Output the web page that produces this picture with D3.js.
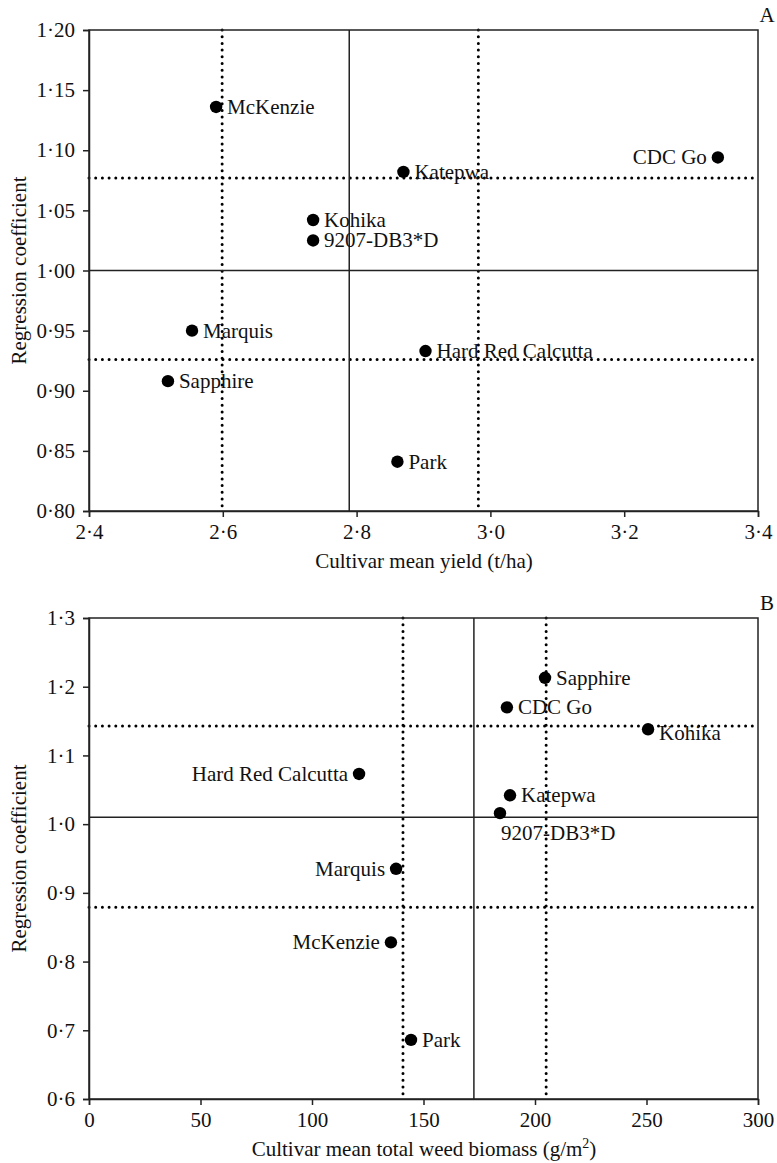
<!DOCTYPE html>
<html>
<head>
<meta charset="utf-8">
<script src="https://cdn.jsdelivr.net/npm/d3@7"></script>
<style>
  body { margin: 0; background: #fff; }
  svg { display: block; font-family: "Liberation Serif", "DejaVu Serif", serif; }
  .axis path, .axis line { stroke: #222; stroke-width: 1.5; }
  .axis text { font-size: 21px; fill: #111; font-family: "Liberation Serif", serif; }
</style>
</head>
<body>
<svg id="chart" width="777" height="1163"></svg>
<script>
// cultivars and their values
const cultivars = ['McKenzie', 'CDC Go', 'Katepwa', 'Kohika', '9207-DB3*D', 'Marquis', 'Hard Red Calcutta', 'Sapphire', 'Park'];

// panel A: yield vs regression coefficient
const yieldA = [2.590, 3.340, 2.870, 2.735, 2.735, 2.554, 2.903, 2.518, 2.861];
const coefA  = [1.136, 1.094, 1.082, 1.042, 1.025, 0.950, 0.933, 0.908, 0.841];
const sideA  = ['right', 'left', 'right', 'right', 'right', 'right', 'right', 'right', 'right'];
const xTicksA = [2.4, 2.6, 2.8, 3.0, 3.2, 3.4];
const yTicksA = [0.80, 0.85, 0.90, 0.95, 1.00, 1.05, 1.10, 1.15, 1.20];
const meanXA = 2.789, dotXA = [2.599, 2.982];
const meanYA = 1.000, dotYA = [0.926, 1.077];

// panel B: weed biomass vs regression coefficient
const biomassB = [135.4, 187.4, 188.8, 250.7, 184.3, 137.7, 121.1, 204.5, 144.4];
const coefB    = [0.828, 1.170, 1.042, 1.138, 1.016, 0.935, 1.073, 1.213, 0.686];
const sideB    = ['left', 'right', 'right', 'right', 'below', 'left', 'left', 'right', 'right'];
const xTicksB = [0, 50, 100, 150, 200, 250, 300];
const yTicksB = [0.6, 0.7, 0.8, 0.9, 1.0, 1.1, 1.2, 1.3];
const meanXB = 172.6, dotXB = [140.8, 205];
const meanYB = 1.010, dotYB = [0.879, 1.143];

const svg = d3.select('#chart');
const dec = n => d => d3.format('.' + n + 'f')(d).replace('.', '\u00b7');
const FS = 21;

function panel(cfg) {
  const x = d3.scaleLinear().domain(cfg.xDomain).range([89, 758]);
  const y = d3.scaleLinear().domain(cfg.yDomain).range([cfg.bottom, cfg.top]);
  const g = svg.append('g');

  // reference lines
  cfg.dotX.forEach(v => g.append('line')
    .attr('x1', x(v)).attr('x2', x(v)).attr('y1', cfg.top).attr('y2', cfg.bottom)
    .attr('stroke', '#000').attr('stroke-width', 3)
    .attr('stroke-linecap', 'round').attr('stroke-dasharray', '0 6.7'));
  cfg.dotY.forEach(v => g.append('line')
    .attr('x1', 89).attr('x2', 758).attr('y1', y(v)).attr('y2', y(v))
    .attr('stroke', '#000').attr('stroke-width', 3)
    .attr('stroke-linecap', 'round').attr('stroke-dasharray', '0 6.7'));
  g.append('line')
    .attr('x1', x(cfg.meanX)).attr('x2', x(cfg.meanX)).attr('y1', cfg.top).attr('y2', cfg.bottom)
    .attr('stroke', '#222').attr('stroke-width', 1.5);
  g.append('line')
    .attr('x1', 89).attr('x2', 758).attr('y1', y(cfg.meanY)).attr('y2', y(cfg.meanY))
    .attr('stroke', '#222').attr('stroke-width', 1.5);

  // frame
  g.append('rect')
    .attr('x', 89).attr('y', cfg.top).attr('width', 669).attr('height', cfg.bottom - cfg.top)
    .attr('fill', 'none').attr('stroke', '#222').attr('stroke-width', 1.5);

  g.append('g').attr('class', 'axis')
    .attr('transform', `translate(0,${cfg.bottom})`)
    .call(d3.axisBottom(x).tickValues(cfg.xTicks).tickFormat(cfg.xFmt).tickSize(6).tickPadding(7));
  g.append('g').attr('class', 'axis')
    .attr('transform', 'translate(89,0)')
    .call(d3.axisLeft(y).tickValues(cfg.yTicks).tickFormat(cfg.yFmt).tickSize(6).tickPadding(8));

  // points + labels
  const pts = cultivars.map((c, i) => ({ name: c, xv: cfg.xs[i], yv: cfg.ys[i], side: cfg.sides[i] }));
  g.selectAll('circle.pt').data(pts).enter().append('circle')
    .attr('class', 'pt')
    .attr('cx', d => x(d.xv)).attr('cy', d => y(d.yv)).attr('r', 6.2).attr('fill', '#000');
  g.selectAll('text.lbl').data(pts).enter().append('text')
    .attr('class', 'lbl')
    .attr('x', d => d.side === 'left' ? x(d.xv) - 11 : d.side === 'below' ? x(d.xv) + 1 : x(d.xv) + 11)
    .attr('y', d => d.side === 'below' ? y(d.yv) + 27 : y(d.yv) + 7 + (d.name === 'Kohika' && cfg.id === 'B' ? 4 : 0))
    .attr('text-anchor', d => d.side === 'left' ? 'end' : 'start')
    .attr('font-size', FS).attr('fill', '#111')
    .text(d => d.name);

  // titles
  svg.append('text')
    .attr('transform', `translate(26,${(cfg.top + cfg.bottom) / 2}) rotate(-90)`)
    .attr('text-anchor', 'middle').attr('font-size', FS).attr('fill', '#111')
    .text('Regression coefficient');
  const xt = svg.append('text')
    .attr('x', 424).attr('y', cfg.bottom + 57)
    .attr('text-anchor', 'middle').attr('font-size', FS).attr('fill', '#111');
  cfg.xTitle(xt);
  svg.append('text')
    .attr('x', 767).attr('y', cfg.top - 8)
    .attr('text-anchor', 'middle').attr('font-size', FS).attr('fill', '#111')
    .text(cfg.id);
}

panel({
  id: 'A', top: 30, bottom: 511,
  xDomain: [2.4, 3.4], yDomain: [0.80, 1.20],
  xTicks: xTicksA, yTicks: yTicksA, xFmt: dec(1), yFmt: dec(2),
  xs: yieldA, ys: coefA, sides: sideA,
  meanX: meanXA, dotX: dotXA, meanY: meanYA, dotY: dotYA,
  xTitle: t => t.text('Cultivar mean yield (t/ha)')
});

panel({
  id: 'B', top: 618, bottom: 1099,
  xDomain: [0, 300], yDomain: [0.6, 1.3],
  xTicks: xTicksB, yTicks: yTicksB, xFmt: d3.format('d'), yFmt: dec(1),
  xs: biomassB, ys: coefB, sides: sideB,
  meanX: meanXB, dotX: dotXB, meanY: meanYB, dotY: dotYB,
  xTitle: t => {
    t.append('tspan').text('Cultivar mean total weed biomass (g/m');
    t.append('tspan').attr('font-size', 14).attr('dy', -8).text('2');
    t.append('tspan').attr('dy', 8).text(')');
  }
});
</script>
</body>
</html>
